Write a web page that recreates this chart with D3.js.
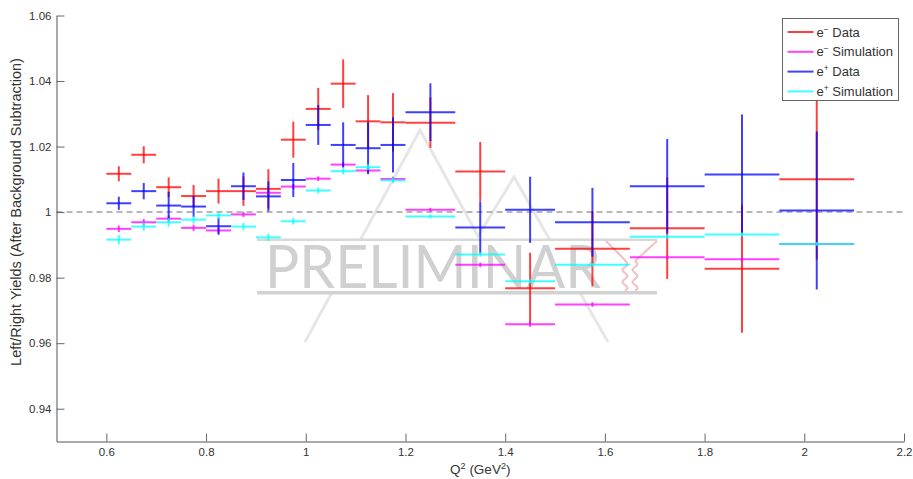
<!DOCTYPE html>
<html>
<head>
<meta charset="utf-8">
<script src="https://cdn.jsdelivr.net/npm/d3@7"></script>
<style>
  body { margin: 0; background: #fff; }
  svg { display: block; }
  text { font-family: "Liberation Sans", Arial, Helvetica, sans-serif; }
</style>
</head>
<body>
<svg id="chart" width="913" height="479"></svg>
<script>
// Q^2 bin centres and half-widths (GeV^2)
const q2Centers = [0.625, 0.675, 0.725, 0.775, 0.825, 0.875, 0.925, 0.975, 1.025, 1.075,
                   1.125, 1.175, 1.25, 1.35, 1.45, 1.575, 1.725, 1.875, 2.025];
const q2HalfWidths = [0.025, 0.025, 0.025, 0.025, 0.025, 0.025, 0.025, 0.025, 0.025, 0.025,
                      0.025, 0.025, 0.05, 0.05, 0.05, 0.075, 0.075, 0.075, 0.075];

// Left/right yield ratios and their uncertainties
const eMinusData    = [1.0117, 1.0175, 1.0076, 1.0049, 1.0064, 1.0064, 1.0071, 1.0221, 1.0315, 1.0392,
                       1.0277, 1.0274, 1.0273, 1.0124, 0.9768, 0.9888, 0.9951, 0.9827, 1.0100];
const eMinusDataErr = [0.0023, 0.0026, 0.0030, 0.0034, 0.0038, 0.0045, 0.0060, 0.0055, 0.0064, 0.0074,
                       0.0080, 0.0089, 0.0077, 0.0090, 0.0108, 0.0115, 0.0155, 0.0195, 0.0245];
const eMinusSim     = [0.9949, 0.9969, 0.9980, 0.9952, 0.9944, 0.9993, 1.0059, 1.0078, 1.0102, 1.0145,
                       1.0127, 1.0101, 1.0007, 0.9839, 0.9658, 0.9718, 0.9862, 0.9856, 0.9903];
const eMinusSimErr  = [0.0010, 0.0010, 0.0010, 0.0010, 0.0009, 0.0008, 0.0008, 0.0008, 0.0007, 0.0007,
                       0.0007, 0.0007, 0.0006, 0.0007, 0.0008, 0.0007, 0.0006, 0.0006, 0.0006];
const ePlusData     = [1.0027, 1.0064, 1.0020, 1.0017, 0.9957, 1.0079, 1.0048, 1.0098, 1.0266, 1.0205,
                       1.0195, 1.0205, 1.0305, 0.9953, 1.0007, 0.9969, 1.0079, 1.0115, 1.0005];
const ePlusDataErr  = [0.0020, 0.0025, 0.0042, 0.0032, 0.0026, 0.0042, 0.0046, 0.0052, 0.0061, 0.0069,
                       0.0079, 0.0084, 0.0088, 0.0080, 0.0101, 0.0105, 0.0144, 0.0183, 0.0241];
const ePlusSim      = [0.9916, 0.9956, 0.9969, 0.9977, 0.9990, 0.9956, 0.9923, 0.9972, 1.0066, 1.0125,
                       1.0137, 1.0097, 0.9987, 0.9871, 0.9789, 0.9839, 0.9925, 0.9932, 0.9903];
const ePlusSimErr   = [0.0014, 0.0013, 0.0013, 0.0012, 0.0012, 0.0011, 0.0011, 0.0010, 0.0009, 0.0009,
                       0.0009, 0.0008, 0.0006, 0.0007, 0.0007, 0.0006, 0.0006, 0.0006, 0.0006];

// Axis ticks
const xTicks = [0.6, 0.8, 1.0, 1.2, 1.4, 1.6, 1.8, 2.0, 2.2];
const yTicks = [0.94, 0.96, 0.98, 1.00, 1.02, 1.04, 1.06];

const series = [
  { sign: "\u2212", label: " Data",       color: "rgb(255,0,0)",   values: eMinusData, errors: eMinusDataErr },
  { sign: "\u2212", label: " Simulation", color: "rgb(255,0,255)", values: eMinusSim,  errors: eMinusSimErr },
  { sign: "+",      label: " Data",       color: "rgb(0,0,255)",   values: ePlusData,  errors: ePlusDataErr },
  { sign: "+",      label: " Simulation", color: "rgb(0,255,255)", values: ePlusSim,   errors: ePlusSimErr }
];

const svg = d3.select("#chart");
const x = d3.scaleLinear().domain([0.5, 2.2]).range([56.5, 904]);
const y = d3.scaleLinear().domain([0.93, 1.06]).range([441.5, 15.5]);
const fmt = d => String(+d.toFixed(2));

// ---- "PRELIMINARY" watermark (background decoration) ----
const wm = svg.append("g").attr("class", "watermark");
wm.append("path")
  .attr("d", d3.line()([[305, 342], [420, 130], [478, 236], [514, 177], [608, 342]]))
  .attr("fill", "none").attr("stroke", "#e6e6e6").attr("stroke-width", 3);
wm.append("rect").attr("x", 257).attr("y", 241).attr("width", 400).attr("height", 50).attr("fill", "#fff");
wm.append("rect").attr("x", 257).attr("y", 238.5).attr("width", 400).attr("height", 2.5).attr("fill", "#d8d8d8");
wm.append("rect").attr("x", 257).attr("y", 291).attr("width", 400).attr("height", 3.5).attr("fill", "#d2d2d2");
wm.append("text")
  .attr("x", 265).attr("y", 288)
  .attr("font-size", 60).attr("font-weight", 400)
  .style("font-family", "Lato, 'Open Sans', 'Liberation Sans', sans-serif")
  .attr("textLength", 336).attr("lengthAdjust", "spacingAndGlyphs")
  .attr("fill", "#d0d0d0")
  .text("PRELIMINAR");
// stylised trailing Y
const yMark = wm.append("g").attr("fill", "none").attr("stroke", "#f0c4c4").attr("stroke-width", 2.2);
yMark.append("path").attr("d", d3.line()([[606, 241], [626, 261]]));
yMark.append("path").attr("d", d3.line()([[657, 241], [635, 261]]));
const wave = (x0) => d3.range(0, 31).map(i => [x0 + 2.5 * Math.sin(i / 30 * Math.PI * 5), 261 + i]);
yMark.append("path").attr("d", d3.line().curve(d3.curveBasis)(wave(625)));
yMark.append("path").attr("d", d3.line().curve(d3.curveBasis)(wave(635)));

// ---- reference line at unity ----
svg.append("line")
  .attr("x1", x(0.5)).attr("x2", x(2.2))
  .attr("y1", y(1)).attr("y2", y(1))
  .attr("stroke", "#a0a0a0").attr("stroke-width", 1.5)
  .attr("stroke-dasharray", "6,4");

// ---- axes (ticks pointing inward) ----
const xAxis = svg.append("g")
  .attr("transform", `translate(0,${y(0.93)})`)
  .call(d3.axisBottom(x).tickValues(xTicks).tickFormat(fmt).tickSizeInner(-8).tickSizeOuter(0).tickPadding(6));
const yAxis = svg.append("g")
  .attr("transform", `translate(${x(0.5)},0)`)
  .call(d3.axisLeft(y).tickValues(yTicks).tickFormat(fmt).tickSizeInner(-8).tickSizeOuter(0).tickPadding(5));
[xAxis, yAxis].forEach(a => {
  a.select(".domain").attr("stroke", "#555");
  a.selectAll(".tick line").attr("stroke", "#666");
  a.selectAll(".tick text").attr("fill", "#333").attr("font-size", 11.5)
    .style("font-family", "'Liberation Sans', Arial, sans-serif");
});

// axis titles
const xTitle = svg.append("text")
  .attr("x", (x(0.5) + x(2.2)) / 2).attr("y", 474)
  .attr("text-anchor", "middle").attr("font-size", 13.5).attr("fill", "#333");
xTitle.append("tspan").text("Q");
xTitle.append("tspan").attr("dy", -5).attr("font-size", 9).text("2");
xTitle.append("tspan").attr("dy", 5).text(" (GeV");
xTitle.append("tspan").attr("dy", -5).attr("font-size", 9).text("2");
xTitle.append("tspan").attr("dy", 5).text(")");

svg.append("text")
  .attr("transform", "translate(21,212) rotate(-90)")
  .attr("text-anchor", "middle").attr("font-size", 14.5).attr("fill", "#333")
  .text("Left/Right Yields (After Background Subtraction)");

// ---- error-bar crosses ----
const marks = svg.append("g").attr("class", "marks");
series.forEach(s => {
  const g = marks.append("g")
    .attr("stroke", s.color).attr("stroke-opacity", 0.75).attr("stroke-width", 2);
  const pts = q2Centers.map((c, i) => ({ c, hw: q2HalfWidths[i], v: s.values[i], e: s.errors[i] }));
  g.selectAll("line.h").data(pts).join("line").attr("class", "h")
    .attr("x1", d => x(d.c - d.hw)).attr("x2", d => x(d.c + d.hw))
    .attr("y1", d => y(d.v)).attr("y2", d => y(d.v));
  g.selectAll("line.v").data(pts).join("line").attr("class", "v")
    .attr("x1", d => x(d.c)).attr("x2", d => x(d.c))
    .attr("y1", d => y(d.v - d.e)).attr("y2", d => y(d.v + d.e));
});

// ---- legend ----
const legend = svg.append("g").attr("transform", "translate(782.5,18.5)");
legend.append("rect").attr("width", 116).attr("height", 82)
  .attr("fill", "#fff").attr("stroke", "#666").attr("stroke-width", 1);
series.forEach((s, i) => {
  const row = legend.append("g").attr("transform", `translate(0,${13.5 + i * 19.8})`);
  row.append("line").attr("x1", 5).attr("x2", 31).attr("y1", 0).attr("y2", 0)
    .attr("stroke", s.color).attr("stroke-opacity", 0.75).attr("stroke-width", 2);
  const t = row.append("text").attr("x", 34).attr("y", 4.5).attr("font-size", 13).attr("fill", "#333");
  t.append("tspan").text("e");
  t.append("tspan").attr("dy", -5).attr("font-size", 8.5).text(s.sign);
  t.append("tspan").attr("dy", 5).text(s.label);
});
</script>
</body>
</html>
